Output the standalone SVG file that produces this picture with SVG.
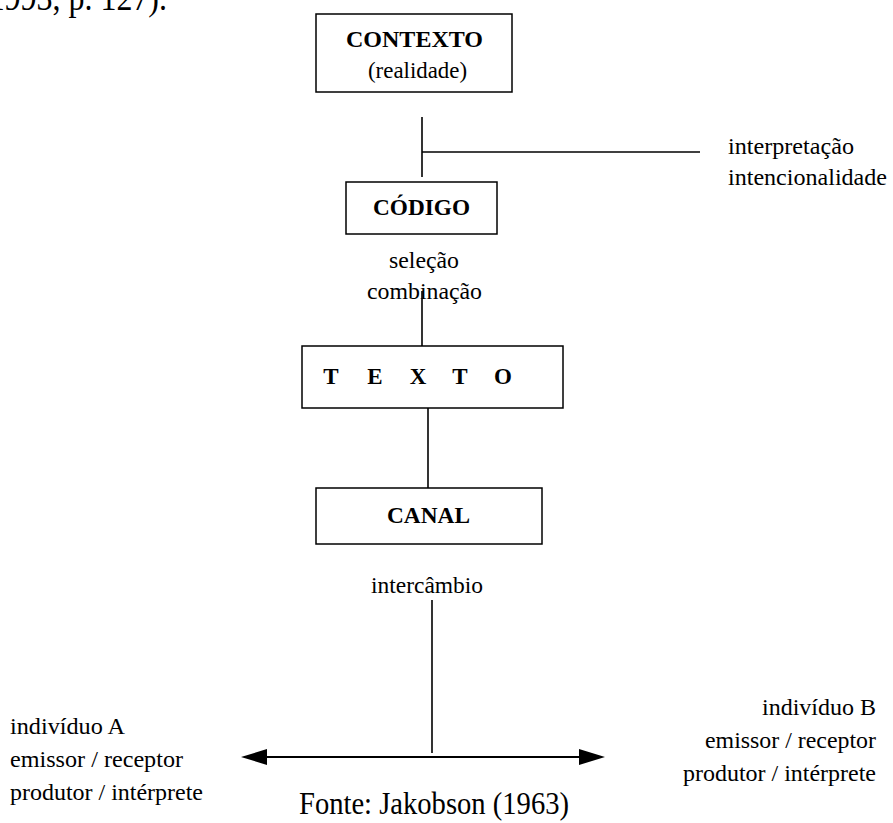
<svg xmlns="http://www.w3.org/2000/svg" width="893" height="823" viewBox="0 0 893 823">
<style>
text{font-family:"Liberation Serif","Times New Roman",serif;fill:#000}
.r{font-size:24px}
.b{font-size:23px;font-weight:bold}
.box{fill:#fff;stroke:#000;stroke-width:1.5}
.ln{stroke:#000;stroke-width:1.6;fill:none}
</style>
<defs>
<marker id="ah" viewBox="0 0 26 16" refX="0" refY="8" markerWidth="26" markerHeight="16" markerUnits="userSpaceOnUse" orient="auto-start-reverse">
<path d="M0,0 L26,8 L0,16 Z" fill="#000"/>
</marker>
</defs>
<rect width="893" height="823" fill="#fff"/>
<text x="-22" y="10" style="font-size:36px" textLength="189" lengthAdjust="spacingAndGlyphs">(1993, p. 127).</text>
<g id="connectors">
<line class="ln" x1="422" y1="117" x2="422" y2="177"/>
<line class="ln" x1="422" y1="152" x2="700" y2="152"/>
<line class="ln" x1="422" y1="291" x2="422" y2="346"/>
<line class="ln" x1="428" y1="408" x2="428" y2="488"/>
<line class="ln" x1="432" y1="600" x2="432" y2="753"/>
<line x1="267" y1="757" x2="579" y2="757" stroke="#000" stroke-width="2.2" marker-start="url(#ah)" marker-end="url(#ah)"/>
</g>
<g id="contexto">
<rect class="box" x="316" y="14" width="196" height="78"/>
<text class="b" x="414.5" y="47" text-anchor="middle" textLength="137" lengthAdjust="spacingAndGlyphs">CONTEXTO</text>
<text class="r" x="417.5" y="78" text-anchor="middle" textLength="99" lengthAdjust="spacingAndGlyphs">(realidade)</text>
</g>
<g id="interpretacao">
<text class="r" x="728" y="154" textLength="126" lengthAdjust="spacingAndGlyphs">interpretação</text>
<text class="r" x="728" y="185" textLength="159" lengthAdjust="spacingAndGlyphs">intencionalidade</text>
</g>
<g id="codigo">
<rect class="box" x="346" y="182" width="151" height="52"/>
<text class="b" x="421.5" y="215" text-anchor="middle" textLength="97" lengthAdjust="spacingAndGlyphs">CÓDIGO</text>
</g>
<g id="selecao">
<text class="r" x="424" y="268" text-anchor="middle" textLength="70" lengthAdjust="spacingAndGlyphs">seleção</text>
<text class="r" x="424.5" y="299" text-anchor="middle" textLength="115" lengthAdjust="spacingAndGlyphs">combinação</text>
</g>
<g id="texto">
<rect class="box" x="302" y="346" width="261" height="62"/>
<text class="b" y="384" text-anchor="middle"><tspan x="331">T</tspan><tspan x="375">E</tspan><tspan x="418">X</tspan><tspan x="460">T</tspan><tspan x="503">O</tspan></text>
</g>
<g id="canal">
<rect class="box" x="316" y="488" width="226" height="56"/>
<text class="b" x="428.5" y="523" text-anchor="middle" textLength="83" lengthAdjust="spacingAndGlyphs">CANAL</text>
</g>
<g id="intercambio">
<text class="r" x="427" y="593" text-anchor="middle" textLength="112" lengthAdjust="spacingAndGlyphs">intercâmbio</text>
</g>
<g id="individuoA">
<text class="r" x="10" y="734" textLength="115" lengthAdjust="spacingAndGlyphs">indivíduo A</text>
<text class="r" x="10" y="767" textLength="173" lengthAdjust="spacingAndGlyphs">emissor / receptor</text>
<text class="r" x="10" y="800" textLength="193" lengthAdjust="spacingAndGlyphs">produtor / intérprete</text>
</g>
<g id="individuoB">
<text class="r" x="876" y="715" text-anchor="end" textLength="114" lengthAdjust="spacingAndGlyphs">indivíduo B</text>
<text class="r" x="876" y="748" text-anchor="end" textLength="171" lengthAdjust="spacingAndGlyphs">emissor / receptor</text>
<text class="r" x="876" y="781" text-anchor="end" textLength="193" lengthAdjust="spacingAndGlyphs">produtor / intérprete</text>
</g>
<g id="fonte">
<text x="434" y="814" text-anchor="middle" style="font-size:31px" textLength="270" lengthAdjust="spacingAndGlyphs">Fonte: Jakobson (1963)</text>
</g>
</svg>
